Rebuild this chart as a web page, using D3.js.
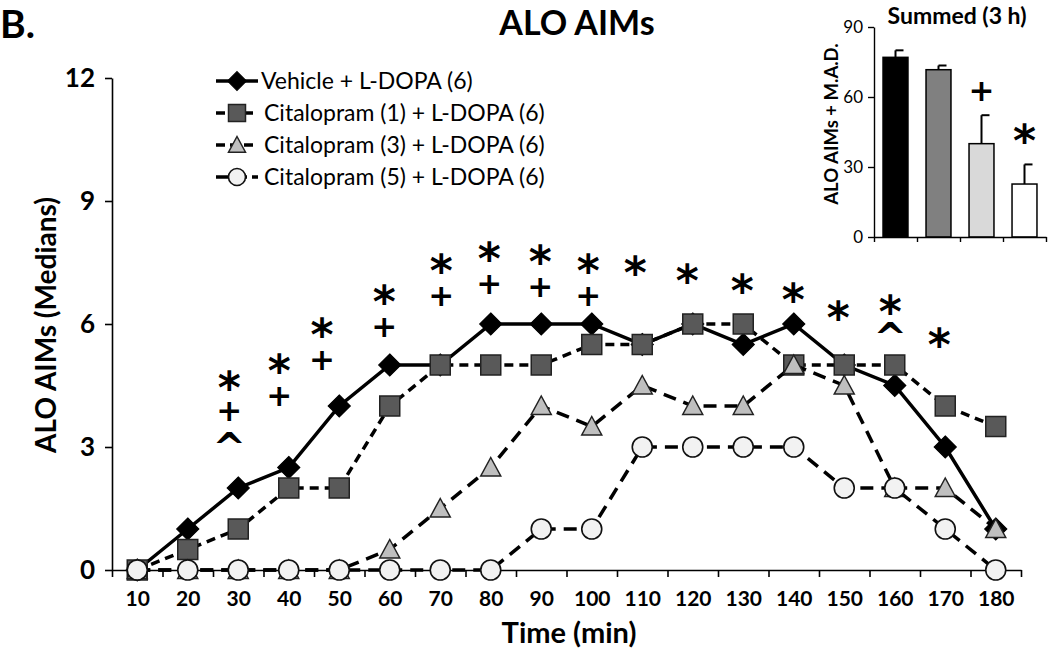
<!DOCTYPE html>
<html><head><meta charset="utf-8">
<script src="https://cdn.jsdelivr.net/npm/d3@7"></script>
<style>body{margin:0;background:#fff} svg{display:block}</style>
</head><body><svg id="c" width="1050" height="652"></svg>
<script>
// ---------- data ----------
const times    = [10,20,30,40,50,60,70,80,90,100,110,120,130,140,150,160,170,180];
const vehicle  = [0,1,2,2.5,4,5,5,6,6,6,5.5,6,5.5,6,5,4.5,3,1];
const cit1     = [0,0.5,1,2,2,4,5,5,5,5.5,5.5,6,6,5,5,5,4,3.5];
const cit3     = [0,0,0,0,0,0.5,1.5,2.5,4,3.5,4.5,4,4,5,4.5,2,2,1];
const cit5     = [0,0,0,0,0,0,0,0,1,1,3,3,3,3,2,2,1,0];
const seriesNames = ["Vehicle + L-DOPA (6)","Citalopram (1) + L-DOPA (6)","Citalopram (3) + L-DOPA (6)","Citalopram (5) + L-DOPA (6)"];
const yTicks = [0,3,6,9,12];

// significance annotations (time position, level in median units, symbol)
const sigTime   = [28.2,28.2,28.2, 38.1,38.1, 46.6,46.6, 58.9,58.9, 70.2,70.2, 79.7,79.7, 89.8,89.8, 99.3,99.3, 108.6, 118.9, 129.8, 139.9, 148.8, 159.1,159.1, 168.8];
const sigLevel  = [4.63,3.90,3.17, 5.05,4.27, 5.93,5.15, 6.73,5.95, 7.49,6.71, 7.80,7.00, 7.71,6.93, 7.49,6.71, 7.44, 7.24, 7.02, 6.80, 6.34, 6.49,5.85, 5.68];
const sigSymbol = ["*","+","^", "*","+", "*","+", "*","+", "*","+", "*","+", "*","+", "*","+", "*", "*", "*", "*", "*", "*","^", "*"];

// inset: summed (3 h)
const summedGroups = ["Vehicle","Citalopram (1)","Citalopram (3)","Citalopram (5)"];
const summedValues = [77, 71.7, 40, 22.7];
const summedMAD    = [3, 1.8, 12.2, 8.4];
const summedTicks  = [0,30,60,90];
const summedSig    = ["","","+","*"];
const summedSigLevel = [0,0,63,44.6];

// ---------- styles ----------
const FONT = "Lato, 'Open Sans', sans-serif";
const SYMFONT = "'DejaVu Sans', sans-serif";
const styles = [
  {shape:"diamond", fill:"#000",    dash:null,   size:22},
  {shape:"square",  fill:"#595959", dash:"9,6",  size:20},
  {shape:"triangle",fill:"#bfbfbf", dash:"13,8", size:20},
  {shape:"circle",  fill:"#f2f2f2", dash:"13,8", size:20}
];
const seriesVals = [vehicle, cit1, cit3, cit5];

const svg = d3.select("#c");

// ---------- main scales ----------
const x = d3.scaleLinear().domain([5,185]).range([112,1021]);
const y = d3.scaleLinear().domain([0,12]).range([570,78]);

// axes
const boundaries = d3.range(5,186,10);
const gx = svg.append("g").attr("transform","translate(0,570)");
gx.call(d3.axisBottom(x).tickValues(boundaries).tickFormat("").tickSize(7).tickSizeOuter(0));
gx.selectAll("path,line").attr("stroke","#000").attr("stroke-width",1.6);
const gxl = svg.append("g").attr("transform","translate(0,570)");
gxl.call(d3.axisBottom(x).tickValues(times).tickSize(0).tickPadding(21));
gxl.select(".domain").remove();
gxl.selectAll("text").attr("font-family",FONT).attr("font-weight","bold").attr("font-size",21).attr("fill","#000");

const gy = svg.append("g").attr("transform","translate(112,0)");
gy.call(d3.axisLeft(y).tickValues(yTicks).tickSize(7).tickSizeOuter(0).tickPadding(10));
gy.selectAll("path,line").attr("stroke","#000").attr("stroke-width",1.6);
gy.selectAll("text").attr("font-family",FONT).attr("font-weight","bold").attr("font-size",26).attr("fill","#000");

// axis titles
svg.append("text").attr("x",569).attr("y",643).attr("text-anchor","middle")
  .attr("font-family",FONT).attr("font-weight","bold").attr("font-size",29).text("Time (min)");
svg.append("text").attr("transform","translate(56,325) rotate(-90)").attr("text-anchor","middle")
  .attr("font-family",FONT).attr("font-weight","bold").attr("font-size",28).text("ALO AIMs (Medians)");
svg.append("text").attr("x",577).attr("y",35).attr("text-anchor","middle")
  .attr("font-family",FONT).attr("font-weight","bold").attr("font-size",34).text("ALO AIMs");
svg.append("text").attr("x",0).attr("y",38)
  .attr("font-family",FONT).attr("font-weight","bold").attr("font-size",39).text("B.");

// ---------- markers ----------
function drawMarker(g, st, cx, cy){
  const s = st.size;
  if(st.shape==="diamond"){
    g.append("path").attr("d",`M${cx},${cy-s/2}L${cx+s/2},${cy}L${cx},${cy+s/2}L${cx-s/2},${cy}Z`)
      .attr("fill",st.fill).attr("stroke","#000").attr("stroke-width",1.2);
  } else if(st.shape==="square"){
    g.append("rect").attr("x",cx-s/2).attr("y",cy-s/2).attr("width",s).attr("height",s)
      .attr("fill",st.fill).attr("stroke","#222").attr("stroke-width",1.5);
  } else if(st.shape==="triangle"){
    g.append("path").attr("d",`M${cx},${cy-s*0.5}L${cx+s/2},${cy+s*0.42}L${cx-s/2},${cy+s*0.42}Z`)
      .attr("fill",st.fill).attr("stroke","#222").attr("stroke-width",1.5);
  } else {
    g.append("circle").attr("cx",cx).attr("cy",cy).attr("r",s/2)
      .attr("fill",st.fill).attr("stroke","#111").attr("stroke-width",1.6);
  }
}

// ---------- series ----------
const line = d3.line().x(d=>x(d[0])).y(d=>y(d[1]));
seriesVals.forEach((vals,i)=>{
  const st = styles[i];
  const g = svg.append("g");
  const pts = times.map((t,j)=>[t,vals[j]]);
  g.append("path").attr("d",line(pts)).attr("fill","none").attr("stroke","#000")
    .attr("stroke-width",3.5).attr("stroke-dasharray",st.dash);
  pts.forEach(p=>drawMarker(g, st, x(p[0]), y(p[1])));
});

// ---------- legend ----------
const legY = [81,113,145,177];
seriesNames.forEach((name,i)=>{
  const st = styles[i];
  const g = svg.append("g");
  g.append("line").attr("x1",216).attr("x2",258).attr("y1",legY[i]).attr("y2",legY[i])
    .attr("stroke","#000").attr("stroke-width",3.5)
    .attr("stroke-dasharray", i===0?null:(i===3?"13,5":"9,5"));
  drawMarker(g, Object.assign({},st,{size:st.size*0.85}), 237, legY[i]);
  g.append("text").attr("x",i===0?261:264).attr("y",legY[i]).attr("dy","0.36em")
    .attr("font-family",FONT).attr("font-size",23).attr("fill","#000").text(name);
});

// ---------- significance symbols ----------
const symSpec = {"*":{fs:44,dy:0.53}, "+":{fs:31,dy:0.36}, "^":{fs:40,dy:0.55}};
sigTime.forEach((t,i)=>{
  const sym = sigSymbol[i], sp = symSpec[sym];
  svg.append("text").attr("x",x(t)).attr("y",y(sigLevel[i])).attr("dy",sp.dy+"em")
    .attr("text-anchor","middle").attr("font-family",SYMFONT)
    .attr("font-weight","bold").attr("font-size",sp.fs).attr("fill","#000").text(sym);
});

// ---------- inset ----------
const xb = d3.scaleBand().domain(summedGroups).range([874,1046]).paddingInner(0.42).paddingOuter(0.21);
const yb = d3.scaleLinear().domain([0,90]).range([237,27]);
const barFill = ["#000","#808080","#d9d9d9","#fff"];
const ib = svg.append("g");
summedGroups.forEach((gname,i)=>{
  const bx = xb(gname), bw = xb.bandwidth(), cx = bx+bw/2;
  const top = yb(summedValues[i]+summedMAD[i]);
  ib.append("line").attr("x1",cx).attr("x2",cx).attr("y1",yb(summedValues[i])).attr("y2",top)
    .attr("stroke","#000").attr("stroke-width",2);
  ib.append("line").attr("x1",cx).attr("x2",cx+8).attr("y1",top).attr("y2",top)
    .attr("stroke","#000").attr("stroke-width",2);
  ib.append("rect").attr("x",bx).attr("y",yb(summedValues[i])).attr("width",bw)
    .attr("height",yb(0)-yb(summedValues[i])).attr("fill",barFill[i]).attr("stroke","#000").attr("stroke-width",1.5);
  if(summedSig[i]){
    const sp = symSpec[summedSig[i]];
    ib.append("text").attr("x",cx).attr("y",yb(summedSigLevel[i])).attr("dy",sp.dy+"em")
      .attr("text-anchor","middle").attr("font-family",SYMFONT)
      .attr("font-weight","bold").attr("font-size",sp.fs).attr("fill","#000").text(summedSig[i]);
  }
});
const ibx = svg.append("g").attr("transform","translate(0,237)");
const bounds = d3.range(0,5).map(k=>874+k*xb.step());
ibx.call(d3.axisBottom(d3.scaleLinear().domain([874,1046]).range([874,1046])).tickValues(bounds).tickFormat("").tickSize(5).tickSizeOuter(0));
ibx.selectAll("path,line").attr("stroke","#000").attr("stroke-width",1.4);
const iby = svg.append("g").attr("transform","translate(874,0)");
iby.call(d3.axisLeft(yb).tickValues(summedTicks).tickSize(6).tickSizeOuter(0).tickPadding(5));
iby.selectAll("path,line").attr("stroke","#000").attr("stroke-width",1.4);
iby.selectAll("text").attr("font-family",FONT).attr("font-size",17).attr("fill","#000");
svg.append("text").attr("x",957).attr("y",24).attr("text-anchor","middle")
  .attr("font-family",FONT).attr("font-weight","bold").attr("font-size",23).text("Summed (3 h)");
svg.append("text").attr("transform","translate(838,124) rotate(-90)").attr("text-anchor","middle")
  .attr("font-family",FONT).attr("font-weight","bold").attr("font-size",18.5).text("ALO AIMs + M.A.D.");
</script></body></html>
